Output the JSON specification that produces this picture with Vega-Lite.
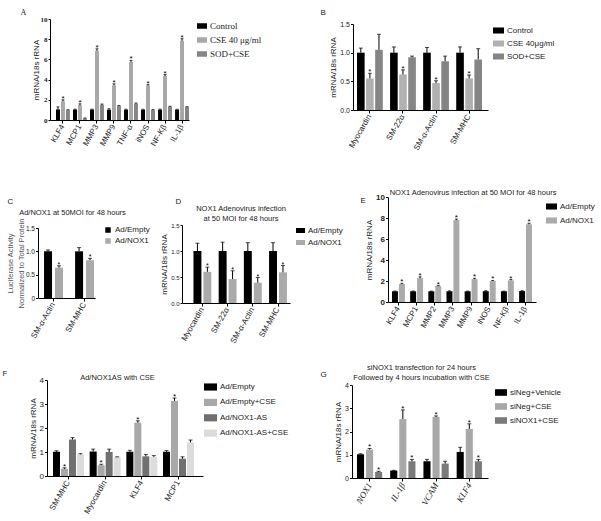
{
"$schema": "https://vega.github.io/schema/vega-lite/v6.json",
"background": "white",
"padding": {"left": 2, "top": 8, "right": 2, "bottom": 2},
"config": {
  "view": {"stroke": null},
  "axis": {"domainColor": "#000", "tickColor": "#000", "domainWidth": 1, "tickWidth": 1, "tickSize": 3, "labelFont": "Liberation Sans", "labelFontSize": 7.5, "labelColor": "#222", "titleFont": "Liberation Sans", "titleFontSize": 8, "titleFontWeight": "normal", "titleColor": "#222", "grid": false, "labelPadding": 2, "labelOverlap": false, "labelFlush": false, "labelBound": false},
  "axisX": {"labelAngle": -60, "labelAlign": "right", "labelBaseline": "middle", "labelFontSize": 8, "titleAngle": 0, "titleAlign": "left", "titleBaseline": "top", "titleFontSize": 8},
  "axisY": {"tickSize": 2.5, "labelPadding": 1, "titlePadding": 2},
  "legend": {"orient": "none", "padding": 0, "labelFont": "Liberation Sans", "labelFontSize": 8, "labelColor": "#222", "symbolType": "M-1,-0.55H1V0.55H-1Z", "symbolSize": 121, "symbolStrokeWidth": 0, "symbolOpacity": 1, "rowPadding": 3, "labelOffset": 3, "title": null},
  "title": {"font": "Liberation Sans", "fontSize": 7.5, "fontWeight": "normal", "color": "#222", "anchor": "middle", "frame": "group", "offset": 0, "baseline": "bottom", "lineHeight": 10}
},
"datasets": {
  "A": [
    {"g": "KLF4", "s": "Control", "v": 1.05, "e": 1.3, "star": ""},
    {"g": "KLF4", "s": "CSE 40 μg/ml", "v": 1.85, "e": 2.0, "star": "*"},
    {"g": "KLF4", "s": "SOD+CSE", "v": 0.97, "e": 1.02, "star": ""},
    {"g": "MCP1", "s": "Control", "v": 1.03, "e": 1.07, "star": ""},
    {"g": "MCP1", "s": "CSE 40 μg/ml", "v": 1.45, "e": 1.6, "star": "*"},
    {"g": "MCP1", "s": "SOD+CSE", "v": 0.17, "e": 0.2, "star": ""},
    {"g": "MMP3", "s": "Control", "v": 1.03, "e": 1.07, "star": ""},
    {"g": "MMP3", "s": "CSE 40 μg/ml", "v": 6.85, "e": 7.05, "star": "*"},
    {"g": "MMP3", "s": "SOD+CSE", "v": 1.5, "e": 1.58, "star": ""},
    {"g": "MMP9", "s": "Control", "v": 1.02, "e": 1.12, "star": ""},
    {"g": "MMP9", "s": "CSE 40 μg/ml", "v": 3.45, "e": 3.58, "star": "*"},
    {"g": "MMP9", "s": "SOD+CSE", "v": 1.4, "e": 1.44, "star": ""},
    {"g": "TNF-α", "s": "Control", "v": 1.02, "e": 1.07, "star": ""},
    {"g": "TNF-α", "s": "CSE 40 μg/ml", "v": 5.75, "e": 5.9, "star": "*"},
    {"g": "TNF-α", "s": "SOD+CSE", "v": 1.6, "e": 1.68, "star": ""},
    {"g": "iNOS", "s": "Control", "v": 1.02, "e": 1.06, "star": ""},
    {"g": "iNOS", "s": "CSE 40 μg/ml", "v": 3.4, "e": 3.5, "star": "*"},
    {"g": "iNOS", "s": "SOD+CSE", "v": 0.98, "e": 1.03, "star": ""},
    {"g": "NF-Kβ", "s": "Control", "v": 1.02, "e": 1.08, "star": ""},
    {"g": "NF-Kβ", "s": "CSE 40 μg/ml", "v": 4.35, "e": 4.5, "star": "*"},
    {"g": "NF-Kβ", "s": "SOD+CSE", "v": 1.3, "e": 1.36, "star": ""},
    {"g": "IL-1β", "s": "Control", "v": 1.02, "e": 1.06, "star": ""},
    {"g": "IL-1β", "s": "CSE 40 μg/ml", "v": 7.85, "e": 8.05, "star": "*"},
    {"g": "IL-1β", "s": "SOD+CSE", "v": 1.28, "e": 1.32, "star": ""}
  ],
  "B": [
    {"g": "Myocardin", "s": "Control", "v": 1.0, "e": 1.08, "star": ""},
    {"g": "Myocardin", "s": "CSE 40μg/ml", "v": 0.55, "e": 0.64, "star": "*"},
    {"g": "Myocardin", "s": "SOD+CSE", "v": 1.05, "e": 1.32, "star": ""},
    {"g": "SM-22α", "s": "Control", "v": 1.0, "e": 1.1, "star": ""},
    {"g": "SM-22α", "s": "CSE 40μg/ml", "v": 0.62, "e": 0.7, "star": "*"},
    {"g": "SM-22α", "s": "SOD+CSE", "v": 0.92, "e": 0.94, "star": ""},
    {"g": "SM-α-Actin", "s": "Control", "v": 1.0, "e": 1.09, "star": ""},
    {"g": "SM-α-Actin", "s": "CSE 40μg/ml", "v": 0.47, "e": 0.51, "star": "*"},
    {"g": "SM-α-Actin", "s": "SOD+CSE", "v": 0.85, "e": 0.94, "star": ""},
    {"g": "SM-MHC", "s": "Control", "v": 1.0, "e": 1.1, "star": ""},
    {"g": "SM-MHC", "s": "CSE 40μg/ml", "v": 0.55, "e": 0.61, "star": "*"},
    {"g": "SM-MHC", "s": "SOD+CSE", "v": 0.88, "e": 1.07, "star": ""}
  ],
  "C": [
    {"g": "SM-α-Actin", "s": "Ad/Empty", "v": 1.0, "e": 1.03, "star": ""},
    {"g": "SM-α-Actin", "s": "Ad/NOX1", "v": 0.65, "e": 0.69, "star": "*"},
    {"g": "SM-MHC", "s": "Ad/Empty", "v": 1.0, "e": 1.08, "star": ""},
    {"g": "SM-MHC", "s": "Ad/NOX1", "v": 0.81, "e": 0.85, "star": "*"}
  ],
  "D": [
    {"g": "Myocardin", "s": "Ad/Empty", "v": 1.0, "e": 1.15, "star": ""},
    {"g": "Myocardin", "s": "Ad/NOX1", "v": 0.6, "e": 0.69, "star": "*"},
    {"g": "SM-22α", "s": "Ad/Empty", "v": 1.0, "e": 1.17, "star": ""},
    {"g": "SM-22α", "s": "Ad/NOX1", "v": 0.46, "e": 0.62, "star": "*"},
    {"g": "SM-α-Actin", "s": "Ad/Empty", "v": 1.0, "e": 1.16, "star": ""},
    {"g": "SM-α-Actin", "s": "Ad/NOX1", "v": 0.39, "e": 0.49, "star": "*"},
    {"g": "SM-MHC", "s": "Ad/Empty", "v": 1.0, "e": 1.16, "star": ""},
    {"g": "SM-MHC", "s": "Ad/NOX1", "v": 0.59, "e": 0.72, "star": "*"}
  ],
  "E": [
    {"g": "KLF4", "s": "Ad/Empty", "v": 1.02, "e": 1.05, "star": ""},
    {"g": "KLF4", "s": "Ad/NOX1", "v": 1.72, "e": 1.78, "star": "*"},
    {"g": "MCP1", "s": "Ad/Empty", "v": 1.02, "e": 1.05, "star": ""},
    {"g": "MCP1", "s": "Ad/NOX1", "v": 2.28, "e": 2.4, "star": "*"},
    {"g": "MMP2", "s": "Ad/Empty", "v": 1.02, "e": 1.04, "star": ""},
    {"g": "MMP2", "s": "Ad/NOX1", "v": 1.52, "e": 1.56, "star": "*"},
    {"g": "MMP3", "s": "Ad/Empty", "v": 1.02, "e": 1.06, "star": ""},
    {"g": "MMP3", "s": "Ad/NOX1", "v": 7.8, "e": 7.9, "star": "*"},
    {"g": "MMP9", "s": "Ad/Empty", "v": 1.02, "e": 1.04, "star": ""},
    {"g": "MMP9", "s": "Ad/NOX1", "v": 2.18, "e": 2.26, "star": "*"},
    {"g": "iNOS", "s": "Ad/Empty", "v": 1.03, "e": 1.08, "star": ""},
    {"g": "iNOS", "s": "Ad/NOX1", "v": 2.0, "e": 2.05, "star": "*"},
    {"g": "NF-Kβ", "s": "Ad/Empty", "v": 1.02, "e": 1.04, "star": ""},
    {"g": "NF-Kβ", "s": "Ad/NOX1", "v": 2.06, "e": 2.14, "star": "*"},
    {"g": "IL-1β", "s": "Ad/Empty", "v": 1.04, "e": 1.08, "star": ""},
    {"g": "IL-1β", "s": "Ad/NOX1", "v": 7.4, "e": 7.5, "star": "*"}
  ],
  "F": [
    {"g": "SM-MHC", "s": "Ad/Empty", "v": 1.01, "e": 1.05, "star": ""},
    {"g": "SM-MHC", "s": "Ad/Empty+CSE", "v": 0.3, "e": 0.34, "star": "*"},
    {"g": "SM-MHC", "s": "Ad/NOX1-AS", "v": 1.52, "e": 1.6, "star": ""},
    {"g": "SM-MHC", "s": "Ad/NOX1-AS+CSE", "v": 0.9, "e": 0.93, "star": ""},
    {"g": "Myocardin", "s": "Ad/Empty", "v": 1.02, "e": 1.12, "star": ""},
    {"g": "Myocardin", "s": "Ad/Empty+CSE", "v": 0.45, "e": 0.49, "star": "*"},
    {"g": "Myocardin", "s": "Ad/NOX1-AS", "v": 1.0, "e": 1.12, "star": ""},
    {"g": "Myocardin", "s": "Ad/NOX1-AS+CSE", "v": 0.78, "e": 0.8, "star": ""},
    {"g": "KLF4", "s": "Ad/Empty", "v": 1.01, "e": 1.07, "star": ""},
    {"g": "KLF4", "s": "Ad/Empty+CSE", "v": 2.22, "e": 2.3, "star": "*"},
    {"g": "KLF4", "s": "Ad/NOX1-AS", "v": 0.82, "e": 0.9, "star": ""},
    {"g": "KLF4", "s": "Ad/NOX1-AS+CSE", "v": 0.8, "e": 0.85, "star": ""},
    {"g": "MCP1", "s": "Ad/Empty", "v": 1.01, "e": 1.06, "star": ""},
    {"g": "MCP1", "s": "Ad/Empty+CSE", "v": 3.13, "e": 3.25, "star": "*"},
    {"g": "MCP1", "s": "Ad/NOX1-AS", "v": 0.72, "e": 0.8, "star": ""},
    {"g": "MCP1", "s": "Ad/NOX1-AS+CSE", "v": 1.4, "e": 1.5, "star": ""}
  ],
  "G": [
    {"g": "NOX1", "s": "siNeg+Vehicle", "v": 1.02, "e": 1.04, "star": ""},
    {"g": "NOX1", "s": "siNeg+CSE", "v": 1.22, "e": 1.27, "star": "*"},
    {"g": "NOX1", "s": "siNOX1+CSE", "v": 0.26, "e": 0.29, "star": "*"},
    {"g": "IL-1β", "s": "siNeg+Vehicle", "v": 0.32, "e": 0.33, "star": ""},
    {"g": "IL-1β", "s": "siNeg+CSE", "v": 2.53, "e": 2.93, "star": "*"},
    {"g": "IL-1β", "s": "siNOX1+CSE", "v": 0.72, "e": 0.8, "star": "*"},
    {"g": "VCAM", "s": "siNeg+Vehicle", "v": 0.72, "e": 0.8, "star": ""},
    {"g": "VCAM", "s": "siNeg+CSE", "v": 2.63, "e": 2.67, "star": "*"},
    {"g": "VCAM", "s": "siNOX1+CSE", "v": 0.62, "e": 0.72, "star": ""},
    {"g": "KLF4", "s": "siNeg+Vehicle", "v": 1.12, "e": 1.32, "star": ""},
    {"g": "KLF4", "s": "siNeg+CSE", "v": 2.11, "e": 2.33, "star": "*"},
    {"g": "KLF4", "s": "siNOX1+CSE", "v": 0.72, "e": 0.8, "star": "*"}
  ]
},
"vconcat": [
  {
    "hconcat": [
      {"width": 12, "height": 1, "data": {"values": []}, "mark": "point"},
      {
        "width": 139, "height": 102,
        "data": {"name": "A"},
        "encoding": {
          "x": {"field": "g", "type": "nominal", "sort": null, "scale": {"paddingInner": 0.18, "paddingOuter": 0.176, "align": 1}, "axis": {"title": "A", "titleX": -30, "titleY": -112, "titleFont": "Liberation Serif"}},
          "xOffset": {"field": "s", "type": "nominal", "sort": ["Control", "CSE 40 μg/ml", "SOD+CSE"], "scale": {"paddingInner": 0.2}}
        },
        "layer": [
          {"mark": {"type": "bar"}, "encoding": {
            "y": {"field": "v", "type": "quantitative", "scale": {"domain": [0, 10], "range": [102, 1], "nice": false}, "axis": {"values": [0, 2, 4, 6, 8, 10], "title": "mRNA/18s rRNA", "labelFontSize": 7, "labelFontWeight": "bold", "labelFont": "Liberation Serif", "tickSize": 2, "titlePadding": 0}},
            "color": {"field": "s", "type": "nominal", "scale": {"domain": ["Control", "CSE 40 μg/ml", "SOD+CSE"], "range": ["#000000", "#a8a8a8", "#858585"]}, "legend": {"legendX": 147, "legendY": 3, "labelFont": "Liberation Serif", "labelFontSize": 9, "rowPadding": 4, "symbolSize": 100}}
          }},
          {"mark": {"type": "rule", "color": "#000", "strokeWidth": 1}, "encoding": {
            "y": {"field": "v", "type": "quantitative", "scale": {"domain": [0, 10], "range": [102, 1], "nice": false}, "axis": {"values": [0, 2, 4, 6, 8, 10], "title": "mRNA/18s rRNA", "labelFontSize": 7, "labelFontWeight": "bold", "labelFont": "Liberation Serif", "tickSize": 2, "titlePadding": 0}},
            "y2": {"field": "e"}}},
          {"mark": {"type": "tick", "color": "#000", "thickness": 1, "size": 3}, "encoding": {
            "y": {"field": "e", "type": "quantitative", "scale": {"domain": [0, 10], "range": [102, 1], "nice": false}, "axis": {"values": [0, 2, 4, 6, 8, 10], "title": "mRNA/18s rRNA", "labelFontSize": 7, "labelFontWeight": "bold", "labelFont": "Liberation Serif", "tickSize": 2, "titlePadding": 0}}}},
          {"mark": {"type": "text", "fontSize": 8, "dy": 1, "baseline": "alphabetic", "color": "#000", "font": "Liberation Sans"}, "encoding": {
            "y": {"field": "e", "type": "quantitative", "scale": {"domain": [0, 10], "range": [102, 1], "nice": false}, "axis": {"values": [0, 2, 4, 6, 8, 10], "title": "mRNA/18s rRNA", "labelFontSize": 7, "labelFontWeight": "bold", "labelFont": "Liberation Serif", "tickSize": 2, "titlePadding": 0}},
            "text": {"field": "star"}}}
        ]
      },
      {"width": 164, "height": 1, "data": {"values": []}, "mark": "point"},
      {
        "width": 135, "height": 92,
        "data": {"name": "B"},
        "encoding": {
          "x": {"field": "g", "type": "nominal", "sort": null, "scale": {"paddingInner": 0.22, "paddingOuter": 0.151, "align": 0.4}, "axis": {"title": "B", "titleX": -33, "titleY": -102}},
          "xOffset": {"field": "s", "type": "nominal", "sort": ["Control", "CSE 40μg/ml", "SOD+CSE"], "scale": {"paddingInner": 0.16}}
        },
        "layer": [
          {"mark": {"type": "bar"}, "encoding": {
            "y": {"field": "v", "type": "quantitative", "scale": {"domain": [0, 1.5], "range": [92, 6], "nice": false}, "axis": {"values": [0, 0.5, 1, 1.5], "format": ".1f", "title": "mRNA/18s rRNA", "labelFontSize": 7}},
            "color": {"field": "s", "type": "nominal", "scale": {"domain": ["Control", "CSE 40μg/ml", "SOD+CSE"], "range": ["#000000", "#b0b0b0", "#858585"]}, "legend": {"legendX": 140, "legendY": 7, "rowPadding": 3}}
          }},
          {"mark": {"type": "rule", "color": "#000", "strokeWidth": 1}, "encoding": {
            "y": {"field": "v", "type": "quantitative", "scale": {"domain": [0, 1.5], "range": [92, 6], "nice": false}, "axis": {"values": [0, 0.5, 1, 1.5], "format": ".1f", "title": "mRNA/18s rRNA", "labelFontSize": 7}},
            "y2": {"field": "e"}}},
          {"mark": {"type": "tick", "color": "#000", "thickness": 1, "size": 4}, "encoding": {
            "y": {"field": "e", "type": "quantitative", "scale": {"domain": [0, 1.5], "range": [92, 6], "nice": false}, "axis": {"values": [0, 0.5, 1, 1.5], "format": ".1f", "title": "mRNA/18s rRNA", "labelFontSize": 7}}}},
          {"mark": {"type": "text", "fontSize": 8, "dy": 1, "baseline": "alphabetic", "color": "#000", "font": "Liberation Sans"}, "encoding": {
            "y": {"field": "e", "type": "quantitative", "scale": {"domain": [0, 1.5], "range": [92, 6], "nice": false}, "axis": {"values": [0, 0.5, 1, 1.5], "format": ".1f", "title": "mRNA/18s rRNA", "labelFontSize": 7}},
            "text": {"field": "star"}}}
        ]
      }
    ],
    "spacing": 0, "bounds": "flush",
    "resolve": {"scale": {"color": "independent", "x": "independent", "y": "independent", "xOffset": "independent"}, "legend": {"color": "independent"}}
  },
  {
    "hconcat": [
      {
        "width": 57, "height": 101,
        "data": {"name": "C"},
        "title": {"text": "Ad/NOX1 at 50MOI for 48 hours", "dx": 6, "dy": 23},
        "encoding": {
          "x": {"field": "g", "type": "nominal", "sort": null, "scale": {"paddingInner": 0.39, "paddingOuter": 0.113, "align": 0.86}, "axis": {"title": "C", "titleX": -31, "titleY": -101}},
          "xOffset": {"field": "s", "type": "nominal", "sort": ["Ad/Empty", "Ad/NOX1"], "scale": {"paddingInner": 0.27}}
        },
        "layer": [
          {"mark": {"type": "bar"}, "encoding": {
            "y": {"field": "v", "type": "quantitative", "scale": {"domain": [0, 1.5], "range": [101, 31], "nice": false}, "axis": {"values": [0, 0.5, 1, 1.5], "labelExpr": "datum.value == 0 ? '0' : format(datum.value, '.1f')", "labelFontSize": 6.5, "title": ["Luciferase Activity", "Normalized to Total Protein"], "titleFontSize": 7.5, "titleColor": "#555", "titleLineHeight": 11, "titlePadding": 0}},
            "color": {"field": "s", "type": "nominal", "scale": {"domain": ["Ad/Empty", "Ad/NOX1"], "range": ["#000000", "#aaaaaa"]}, "legend": {"legendX": 66, "legendY": 29, "symbolType": "square", "symbolSize": 30, "rowPadding": 3}}
          }},
          {"mark": {"type": "rule", "color": "#000", "strokeWidth": 1}, "encoding": {
            "y": {"field": "v", "type": "quantitative", "scale": {"domain": [0, 1.5], "range": [101, 31], "nice": false}, "axis": {"values": [0, 0.5, 1, 1.5], "labelExpr": "datum.value == 0 ? '0' : format(datum.value, '.1f')", "labelFontSize": 6.5, "title": ["Luciferase Activity", "Normalized to Total Protein"], "titleFontSize": 7.5, "titleColor": "#555", "titleLineHeight": 11, "titlePadding": 0}},
            "y2": {"field": "e"}}},
          {"mark": {"type": "tick", "color": "#000", "thickness": 1, "size": 4}, "encoding": {
            "y": {"field": "e", "type": "quantitative", "scale": {"domain": [0, 1.5], "range": [101, 31], "nice": false}, "axis": {"values": [0, 0.5, 1, 1.5], "labelExpr": "datum.value == 0 ? '0' : format(datum.value, '.1f')", "labelFontSize": 6.5, "title": ["Luciferase Activity", "Normalized to Total Protein"], "titleFontSize": 7.5, "titleColor": "#555", "titleLineHeight": 11, "titlePadding": 0}}}},
          {"mark": {"type": "text", "fontSize": 7, "dy": 1, "baseline": "alphabetic", "color": "#000", "font": "Liberation Sans"}, "encoding": {
            "y": {"field": "e", "type": "quantitative", "scale": {"domain": [0, 1.5], "range": [101, 31], "nice": false}, "axis": {"values": [0, 0.5, 1, 1.5], "labelExpr": "datum.value == 0 ? '0' : format(datum.value, '.1f')", "labelFontSize": 6.5, "title": ["Luciferase Activity", "Normalized to Total Protein"], "titleFontSize": 7.5, "titleColor": "#555", "titleLineHeight": 11, "titlePadding": 0}},
            "text": {"field": "star"}}}
        ]
      },
      {"width": 87, "height": 1, "data": {"values": []}, "mark": "point"},
      {
        "width": 108, "height": 106,
        "data": {"name": "D"},
        "title": {"text": ["NOX1 Adenovirus infection", "at 50 MOI for 48 hours"], "dx": 5, "dy": 29},
        "encoding": {
          "x": {"field": "g", "type": "nominal", "sort": null, "scale": {"paddingInner": 0.29, "paddingOuter": 0.288, "align": 0.79}, "axis": {"title": "D", "titleX": -7, "titleY": -106}},
          "xOffset": {"field": "s", "type": "nominal", "sort": ["Ad/Empty", "Ad/NOX1"], "scale": {"paddingInner": 0.2}}
        },
        "layer": [
          {"mark": {"type": "bar"}, "encoding": {
            "y": {"field": "v", "type": "quantitative", "scale": {"domain": [0, 1.5], "range": [106, 28], "nice": false}, "axis": {"values": [0, 0.5, 1, 1.5], "format": ".1f", "title": "mRNA/18s rRNA", "labelFontSize": 6, "tickSize": 2}},
            "color": {"field": "s", "type": "nominal", "scale": {"domain": ["Ad/Empty", "Ad/NOX1"], "range": ["#000000", "#aaaaaa"]}, "legend": {"legendX": 114, "legendY": 29, "symbolSize": 81, "rowPadding": 3}}
          }},
          {"mark": {"type": "rule", "color": "#000", "strokeWidth": 1}, "encoding": {
            "y": {"field": "v", "type": "quantitative", "scale": {"domain": [0, 1.5], "range": [106, 28], "nice": false}, "axis": {"values": [0, 0.5, 1, 1.5], "format": ".1f", "title": "mRNA/18s rRNA", "labelFontSize": 6, "tickSize": 2}},
            "y2": {"field": "e"}}},
          {"mark": {"type": "tick", "color": "#000", "thickness": 1, "size": 4}, "encoding": {
            "y": {"field": "e", "type": "quantitative", "scale": {"domain": [0, 1.5], "range": [106, 28], "nice": false}, "axis": {"values": [0, 0.5, 1, 1.5], "format": ".1f", "title": "mRNA/18s rRNA", "labelFontSize": 6, "tickSize": 2}}}},
          {"mark": {"type": "text", "fontSize": 7, "dy": 1, "baseline": "alphabetic", "color": "#000", "font": "Liberation Sans"}, "encoding": {
            "y": {"field": "e", "type": "quantitative", "scale": {"domain": [0, 1.5], "range": [106, 28], "nice": false}, "axis": {"values": [0, 0.5, 1, 1.5], "format": ".1f", "title": "mRNA/18s rRNA", "labelFontSize": 6, "tickSize": 2}},
            "text": {"field": "star"}}}
        ]
      },
      {"width": 98, "height": 1, "data": {"values": []}, "mark": "point"},
      {
        "width": 148, "height": 105,
        "data": {"name": "E"},
        "title": {"text": "NOX1 Adenovirus infection at 50 MOI for 48 hours", "dx": 11, "dy": 7},
        "encoding": {
          "x": {"field": "g", "type": "nominal", "sort": null, "scale": {"paddingInner": 0.29, "paddingOuter": 0.22, "align": 0.5}, "axis": {"title": "E", "titleX": -28, "titleY": -106}},
          "xOffset": {"field": "s", "type": "nominal", "sort": ["Ad/Empty", "Ad/NOX1"], "scale": {"paddingInner": 0.14}}
        },
        "layer": [
          {"mark": {"type": "bar"}, "encoding": {
            "y": {"field": "v", "type": "quantitative", "scale": {"domain": [0, 10], "range": [105, 0], "nice": false}, "axis": {"values": [0, 2, 4, 6, 8, 10], "title": "mRNA/18s rRNA", "labelFontSize": 8, "labelFontWeight": "bold"}},
            "color": {"field": "s", "type": "nominal", "scale": {"domain": ["Ad/Empty", "Ad/NOX1"], "range": ["#000000", "#aaaaaa"]}, "legend": {"legendX": 158, "legendY": 4, "rowPadding": 4}}
          }},
          {"mark": {"type": "rule", "color": "#000", "strokeWidth": 1}, "encoding": {
            "y": {"field": "v", "type": "quantitative", "scale": {"domain": [0, 10], "range": [105, 0], "nice": false}, "axis": {"values": [0, 2, 4, 6, 8, 10], "title": "mRNA/18s rRNA", "labelFontSize": 8, "labelFontWeight": "bold"}},
            "y2": {"field": "e"}}},
          {"mark": {"type": "tick", "color": "#000", "thickness": 1, "size": 3}, "encoding": {
            "y": {"field": "e", "type": "quantitative", "scale": {"domain": [0, 10], "range": [105, 0], "nice": false}, "axis": {"values": [0, 2, 4, 6, 8, 10], "title": "mRNA/18s rRNA", "labelFontSize": 8, "labelFontWeight": "bold"}}}},
          {"mark": {"type": "text", "fontSize": 8, "dy": 1, "baseline": "alphabetic", "color": "#000", "font": "Liberation Sans"}, "encoding": {
            "y": {"field": "e", "type": "quantitative", "scale": {"domain": [0, 10], "range": [105, 0], "nice": false}, "axis": {"values": [0, 2, 4, 6, 8, 10], "title": "mRNA/18s rRNA", "labelFontSize": 8, "labelFontWeight": "bold"}},
            "text": {"field": "star"}}}
        ]
      }
    ],
    "spacing": 0, "bounds": "flush",
    "resolve": {"scale": {"color": "independent", "x": "independent", "y": "independent", "xOffset": "independent"}, "legend": {"color": "independent"}}
  },
  {
    "hconcat": [
      {"width": 9, "height": 1, "data": {"values": []}, "mark": "point"},
      {
        "width": 156, "height": 100,
        "data": {"name": "F"},
        "title": {"text": "Ad/NOX1AS with CSE", "dx": -7.5, "dy": 16},
        "encoding": {
          "x": {"field": "g", "type": "nominal", "sort": null, "scale": {"paddingInner": 0.155, "paddingOuter": 0.2045, "align": 0.4}, "axis": {"title": "F", "titleX": -45, "titleY": -107}},
          "xOffset": {"field": "s", "type": "nominal", "sort": ["Ad/Empty", "Ad/Empty+CSE", "Ad/NOX1-AS", "Ad/NOX1-AS+CSE"], "scale": {"paddingInner": 0.12}}
        },
        "layer": [
          {"mark": {"type": "bar"}, "encoding": {
            "y": {"field": "v", "type": "quantitative", "scale": {"domain": [0, 4], "range": [100, 4], "nice": false}, "axis": {"values": [0, 1, 2, 3, 4], "title": "mRNA/18s rRNA", "labelFontSize": 8}},
            "color": {"field": "s", "type": "nominal", "scale": {"domain": ["Ad/Empty", "Ad/Empty+CSE", "Ad/NOX1-AS", "Ad/NOX1-AS+CSE"], "range": ["#000000", "#a8a8a8", "#707070", "#dcdcdc"]}, "legend": {"legendX": 157, "legendY": 4.5, "rowPadding": 4.4, "symbolSize": 169}}
          }},
          {"mark": {"type": "rule", "color": "#000", "strokeWidth": 1}, "encoding": {
            "y": {"field": "v", "type": "quantitative", "scale": {"domain": [0, 4], "range": [100, 4], "nice": false}, "axis": {"values": [0, 1, 2, 3, 4], "title": "mRNA/18s rRNA", "labelFontSize": 8}},
            "y2": {"field": "e"}}},
          {"mark": {"type": "tick", "color": "#000", "thickness": 1, "size": 4}, "encoding": {
            "y": {"field": "e", "type": "quantitative", "scale": {"domain": [0, 4], "range": [100, 4], "nice": false}, "axis": {"values": [0, 1, 2, 3, 4], "title": "mRNA/18s rRNA", "labelFontSize": 8}}}},
          {"mark": {"type": "text", "fontSize": 8, "dy": 1, "baseline": "alphabetic", "color": "#000", "font": "Liberation Sans"}, "encoding": {
            "y": {"field": "e", "type": "quantitative", "scale": {"domain": [0, 4], "range": [100, 4], "nice": false}, "axis": {"values": [0, 1, 2, 3, 4], "title": "mRNA/18s rRNA", "labelFontSize": 8}},
            "text": {"field": "star"}}}
        ]
      },
      {"width": 149, "height": 1, "data": {"values": []}, "mark": "point"},
      {
        "width": 136, "height": 102,
        "data": {"name": "G"},
        "title": {"text": ["siNOX1 transfection for 24 hours", "Followed by 4 hours incubation with CSE"], "dx": 1.5, "dy": 15},
        "encoding": {
          "x": {"field": "g", "type": "nominal", "sort": null, "scale": {"paddingInner": 0.24, "paddingOuter": 0.166, "align": 0.45}, "axis": {"title": "G", "titleX": -32, "titleY": -108, "labelFont": "Liberation Serif", "labelFontStyle": "italic", "labelFontSize": 9}},
          "xOffset": {"field": "s", "type": "nominal", "sort": ["siNeg+Vehicle", "siNeg+CSE", "siNOX1+CSE"], "scale": {"paddingInner": 0.22}}
        },
        "layer": [
          {"mark": {"type": "bar"}, "encoding": {
            "y": {"field": "v", "type": "quantitative", "scale": {"domain": [0, 4], "range": [102, 9], "nice": false}, "axis": {"values": [0, 1, 2, 3, 4], "title": "mRNA/18s rRNA", "labelFontSize": 7}},
            "color": {"field": "s", "type": "nominal", "scale": {"domain": ["siNeg+Vehicle", "siNeg+CSE", "siNOX1+CSE"], "range": ["#000000", "#a8a8a8", "#7a7a7a"]}, "legend": {"legendX": 143, "legendY": 10.5, "rowPadding": 4, "symbolSize": 144}}
          }},
          {"mark": {"type": "rule", "color": "#000", "strokeWidth": 1}, "encoding": {
            "y": {"field": "v", "type": "quantitative", "scale": {"domain": [0, 4], "range": [102, 9], "nice": false}, "axis": {"values": [0, 1, 2, 3, 4], "title": "mRNA/18s rRNA", "labelFontSize": 7}},
            "y2": {"field": "e"}}},
          {"mark": {"type": "tick", "color": "#000", "thickness": 1, "size": 4}, "encoding": {
            "y": {"field": "e", "type": "quantitative", "scale": {"domain": [0, 4], "range": [102, 9], "nice": false}, "axis": {"values": [0, 1, 2, 3, 4], "title": "mRNA/18s rRNA", "labelFontSize": 7}}}},
          {"mark": {"type": "text", "fontSize": 8, "dy": 1, "baseline": "alphabetic", "color": "#000", "font": "Liberation Sans"}, "encoding": {
            "y": {"field": "e", "type": "quantitative", "scale": {"domain": [0, 4], "range": [102, 9], "nice": false}, "axis": {"values": [0, 1, 2, 3, 4], "title": "mRNA/18s rRNA", "labelFontSize": 7}},
            "text": {"field": "star"}}}
        ]
      }
    ],
    "spacing": 0, "bounds": "flush",
    "resolve": {"scale": {"color": "independent", "x": "independent", "y": "independent", "xOffset": "independent"}, "legend": {"color": "independent"}}
  }
],
"spacing": 179,
"bounds": "flush",
"resolve": {"scale": {"color": "independent", "x": "independent", "y": "independent", "xOffset": "independent"}, "legend": {"color": "independent"}}
}
